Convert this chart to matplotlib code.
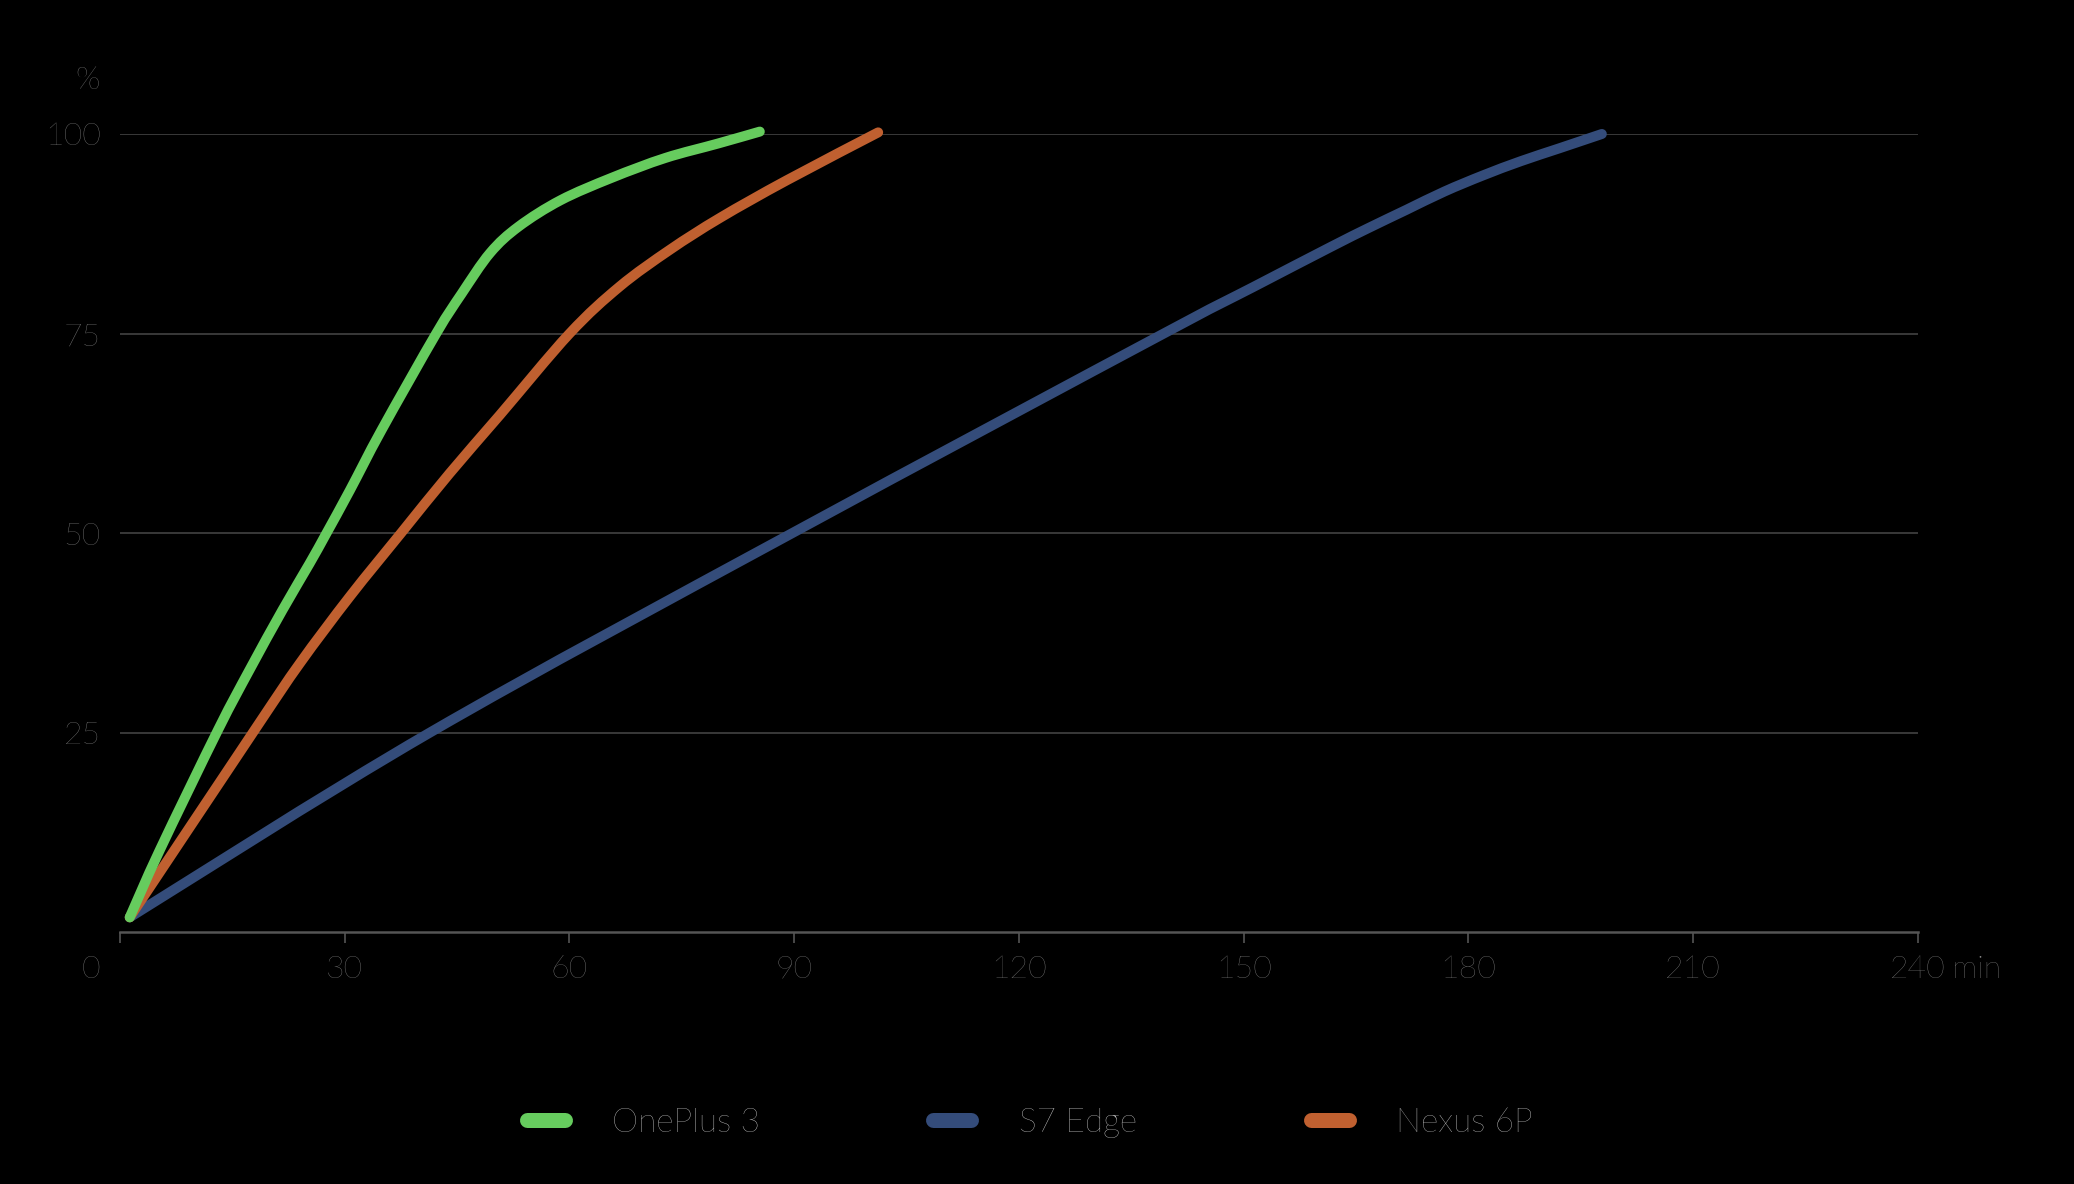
import numpy as np
import matplotlib.pyplot as plt
from matplotlib.lines import Line2D
from matplotlib.path import Path
from matplotlib.patches import PathPatch

# charge time (min) vs battery level (%)
op3_t = [1.3, 5.3, 13.1, 17.3, 21.7, 25.3, 27.5, 30.7, 34.9, 42.2, 45.6, 49.4, 53.2, 58.8, 65.6, 72.8, 79.8, 85.4]
op3_y = [1.9, 10.3, 25.4, 32.9, 40.4, 46.2, 49.9, 55.4, 62.9, 75.0, 80.0, 85.1, 88.4, 91.7, 94.5, 97.0, 98.8, 100.3]

s7_t = [1.3, 41.3, 89.7, 139.3, 151.2, 161.5, 166.6, 171.7, 176.8, 181.9, 187.0, 192.1, 197.8]
s7_y = [1.9, 25.0, 50.0, 75.0, 80.8, 85.8, 88.2, 90.5, 92.8, 94.8, 96.6, 98.2, 100.0]

n6p_t = [1.3, 18.0, 24.0, 30.7, 37.5, 44.0, 50.7, 60.0, 66.7, 73.4, 80.1, 89.0, 101.2]
n6p_y = [1.9, 25.4, 33.7, 42.1, 50.0, 57.5, 64.8, 75.0, 80.9, 85.5, 89.5, 94.2, 100.2]

names = ['OnePlus 3', 'S7 Edge', 'Nexus 6P']
colors = ['#66cc5e', '#344c7a', '#c06030']

x_ticks = [0, 30, 60, 90, 120, 150, 180, 210, 240]
y_ticks = [25, 50, 75, 100]


def smooth_path(t, y):
    # curve through the points (catmull-rom as bezier), like the original chart
    p = np.column_stack([t, y])
    n = len(p)
    verts = [p[0]]
    codes = [Path.MOVETO]
    for i in range(n - 1):
        p0 = p[i - 1] if i > 0 else p[i]
        p3 = p[i + 2] if i + 2 < n else p[i + 1]
        c1 = p[i] + (p[i + 1] - p0) / 6
        c2 = p[i + 1] - (p3 - p[i]) / 6
        verts += [c1, c2, p[i + 1]]
        codes += [Path.CURVE4] * 3
    return Path(verts, codes)


plt.rcParams['font.family'] = ['Lato', 'DejaVu Sans']
plt.rcParams['font.weight'] = 'light'

fig = plt.figure(figsize=(20.74, 11.84), dpi=100, facecolor='black')
ax = fig.add_axes([0.05786, 0.21242, 0.86692, 0.67441], facecolor='black')

series = [(s7_t, s7_y, colors[1], 3), (n6p_t, n6p_y, colors[2], 4), (op3_t, op3_y, colors[0], 5)]
for t, y, c, z in series:
    ax.add_patch(PathPatch(smooth_path(t, y), fill=False, edgecolor=c, lw=7.2,
                           capstyle='round', joinstyle='round', clip_on=False, zorder=z))

ax.set_xlim(0, 240)
ax.set_ylim(0, 100)

ax.set_xticks(x_ticks)
ax.set_xticklabels([''] + [str(v) for v in x_ticks[1:]])
ax.set_yticks(y_ticks)
ax.set_yticklabels([str(v) for v in y_ticks])

ax.tick_params(axis='x', colors='#555555', length=8, width=1.2, pad=8,
               labelsize=23, labelcolor='#8c8c8c')
ax.tick_params(axis='y', length=0, pad=14, labelsize=23, labelcolor='#8c8c8c')

ax.grid(axis='y', color='#3d3d3d', lw=1.3)
ax.set_axisbelow(True)
for s in ['top', 'right', 'left']:
    ax.spines[s].set_visible(False)
ax.spines['bottom'].set_color('#555555')
ax.spines['bottom'].set_linewidth(1.8)

lab = dict(fontsize=23, color='#8c8c8c', textcoords='offset pixels', annotation_clip=False)
ax.annotate('0', xy=(0, 0), xytext=(-20, -23), ha='right', va='top', **lab)
ax.annotate('min', xy=(240, 0), xytext=(34, -23), ha='left', va='top', **lab)
ax.annotate('%', xy=(0, 100), xytext=(-20, 53), ha='right', va='center', **lab)

handles = [Line2D([0], [0], color=c, lw=10.8, solid_capstyle='round') for c in colors]
fig.legend(handles, names, loc='center', bbox_to_anchor=(0.4965, 0.0515), ncol=3,
           frameon=False, fontsize=24, labelcolor='#e2e2e2',
           handlelength=1.14, handletextpad=1.43, columnspacing=5.2)

fig.savefig('out.png', dpi=100, facecolor='black')
